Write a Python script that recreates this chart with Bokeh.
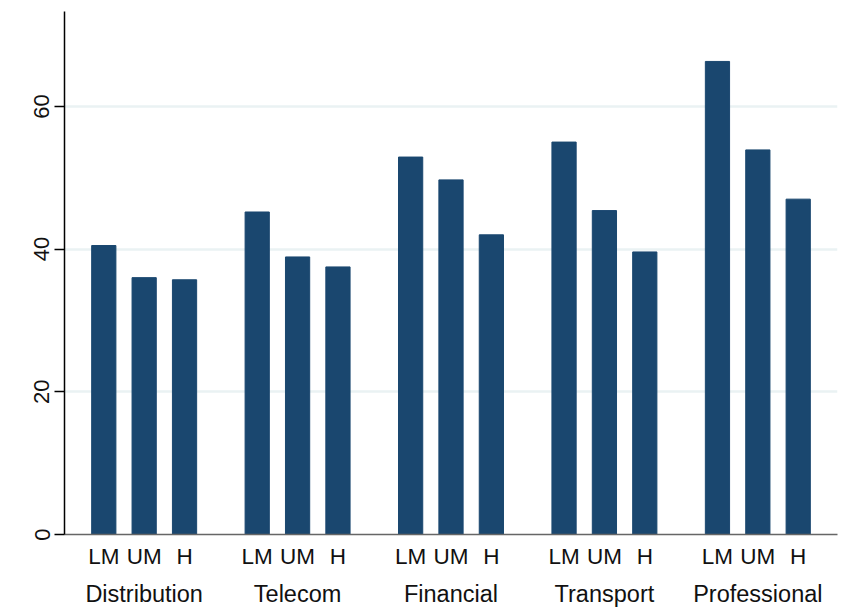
from bokeh.plotting import figure
from bokeh.models import FactorRange, ColumnDataSource, FixedTicker
from bokeh.embed import file_html
from bokeh.resources import INLINE

sectors = ["Distribution", "Telecom", "Financial", "Transport", "Professional"]
levels = ["LM", "UM", "H"]
lm = [40.5, 45.2, 52.9, 55.0, 66.3]
um = [36.0, 38.9, 49.7, 45.4, 53.9]
h = [35.7, 37.5, 42.0, 39.6, 47.0]
y_ticks = [0, 20, 40, 60]

factors = [(s, l) for s in sectors for l in levels]
vals = [v for trio in zip(lm, um, h) for v in trio]
src = ColumnDataSource(data=dict(x=factors, top=vals))

x_range = FactorRange(*factors, factor_padding=0.0, group_padding=0.8,
                      range_padding=0.052)
p = figure(x_range=x_range, y_range=(0, 73.3),
           frame_width=773, frame_height=523,
           output_backend="svg", toolbar_location=None,
           min_border_left=64, min_border_right=2, min_border_top=11,
           min_border_bottom=60)

p.vbar(x="x", top="top", width=0.6, source=src,
       fill_color="#1a476f", line_color="#1a476f")

p.outline_line_color = None
p.xgrid.grid_line_color = None
p.ygrid.grid_line_color = "#eaf2f3"
p.ygrid.grid_line_width = 2.5

font = "Liberation Sans"
ya = p.yaxis[0]
ya.ticker = FixedTicker(ticks=y_ticks)
ya.minor_tick_line_color = None
ya.major_tick_out = 10
ya.major_tick_in = 0
ya.axis_line_color = "black"
ya.axis_line_width = 1.5
ya.major_tick_line_color = "black"
ya.major_tick_line_width = 1.5
ya.major_label_orientation = "vertical"
ya.major_label_text_font = font
ya.major_label_text_font_size = "22px"
ya.major_label_text_color = "#111111"
ya.major_label_standoff = 5

xa = p.xaxis[0]
xa.major_tick_line_color = None
xa.major_tick_out = 0
xa.major_tick_in = 0
xa.axis_line_color = "#666666"
xa.axis_line_width = 1.5
xa.separator_line_color = None
xa.major_label_text_font = font
xa.major_label_text_font_size = "22.5px"
xa.major_label_text_color = "#111111"
xa.major_label_standoff = 9
xa.group_text_font = font
xa.group_text_font_size = "23.5px"
xa.group_text_color = "#111111"
xa.group_text_font_style = "normal"

open("out.html", "w").write(file_html(p, INLINE))
